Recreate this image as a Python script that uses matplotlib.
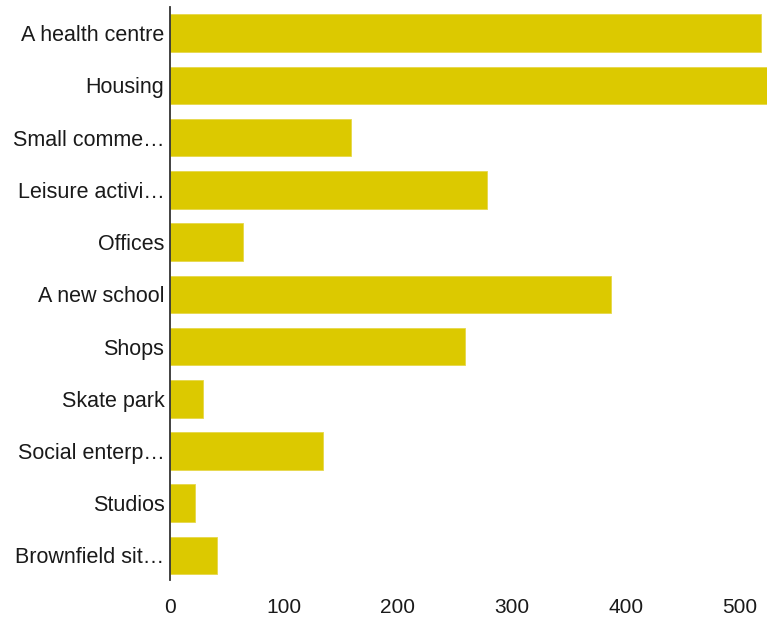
import matplotlib
matplotlib.use("Agg")
import matplotlib.pyplot as plt

# answers (truncated labels as shown in the chart)
labels = ["A health centre", "Housing", "Small comme\u2026", "Leisure activi\u2026",
          "Offices", "A new school", "Shops", "Skate park",
          "Social enterp\u2026", "Studios", "Brownfield sit\u2026"]
counts = [519, 530, 159, 278, 64, 387, 259, 29, 134, 22, 41]
xticks = [0, 100, 200, 300, 400, 500]

plt.rcParams['font.family'] = ['Liberation Sans', 'DejaVu Sans']

fig = plt.figure(figsize=(7.67, 6.2), dpi=100)
ax = fig.add_axes([0.2216, 0.0645, 0.7784, 0.924])

ax.barh(range(len(labels)), counts, height=0.72, color='#DCC900',
        edgecolor='#E6D84A', linewidth=0.6)

ax.set_xlim(0, 524)
ax.set_ylim(10.47, -0.5)
ax.set_yticks(range(len(labels)))
ax.set_yticklabels(labels)
ax.set_xticks(xticks)

for s in ['top', 'right', 'bottom']:
    ax.spines[s].set_visible(False)
ax.spines['left'].set_color('#333333')
ax.spines['left'].set_linewidth(1.3)

ax.tick_params(axis='y', length=0, pad=4, labelsize=15.5, colors='#1a1a1a')
ax.tick_params(axis='x', length=0, pad=13, labelsize=15, colors='#1a1a1a')

fig.savefig('out.png', dpi=100)
